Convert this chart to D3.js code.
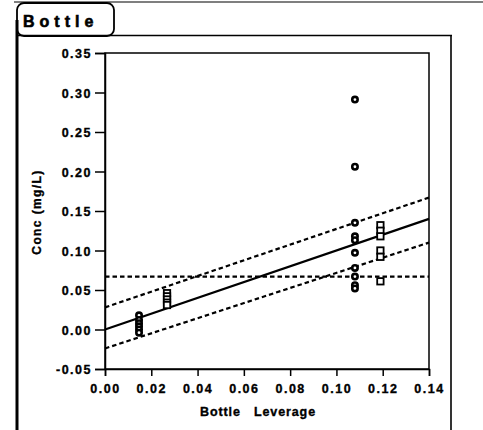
<!DOCTYPE html>
<html>
<head>
<meta charset="utf-8">
<script src="https://cdn.jsdelivr.net/npm/d3@7"></script>
<style>
  html, body { margin: 0; padding: 0; background: #fff; }
  svg { display: block; }
  text { font-family: "Liberation Sans", Arial, Helvetica, sans-serif; font-weight: bold; fill: #000;
         stroke: #000; stroke-width: 0.35px; }
</style>
</head>
<body>
<svg id="chart" width="483" height="430"></svg>
<script>
// Leverage plot for the "Bottle" effect
const panelTitle = "Bottle";
const xTitle = "Bottle   Leverage";
const yTitle = "Conc (mg/L)";

const xTicks = [0.00, 0.02, 0.04, 0.06, 0.08, 0.10, 0.12, 0.14];
const yTicks = [-0.05, 0.00, 0.05, 0.10, 0.15, 0.20, 0.25, 0.30, 0.35];

// observations grouped by bottle leverage
const dotLev = [0.0147, 0.0147, 0.0147, 0.0147, 0.0147, 0.0147,
                0.108, 0.108, 0.108, 0.108, 0.108, 0.108, 0.108, 0.108, 0.108, 0.108];
const dotConc = [0.018, 0.012, 0.008, 0.004, 0.000, -0.004,
                 0.291, 0.206, 0.135, 0.118, 0.113, 0.097, 0.078, 0.067, 0.056, 0.052];

const squareLev = [0.0268, 0.0268, 0.0268, 0.0268, 0.0268,
                   0.119, 0.119, 0.119, 0.119, 0.119, 0.119];
const squareConc = [0.046, 0.042, 0.038, 0.034, 0.031,
                    0.132, 0.125, 0.118, 0.100, 0.092, 0.061];

// fit line, confidence curves and mean line
const lineLev = [0.00, 0.14];
const fitConc = [0.000, 0.140];
const upperConc = [0.028, 0.167];
const lowerConc = [-0.024, 0.110];
const meanConc = [0.067, 0.067];

const svg = d3.select("#chart");

const x = d3.scaleLinear().domain([0, 0.14]).range([105, 429]);
const y = d3.scaleLinear().domain([-0.05, 0.35]).range([369, 53]);

// tick labels use a plain hyphen for negatives
const fmt = d => d3.format(".2f")(d).replace("\u2212", "-");

// outer panel frame with title tab
svg.append("line").attr("x1", 14).attr("x2", 483).attr("y1", 2).attr("y2", 2)
  .attr("stroke", "#000").attr("stroke-width", 1.2);
svg.append("rect").attr("x", 17).attr("y", 3).attr("width", 97).attr("height", 33)
  .attr("rx", 7).attr("fill", "#fff").attr("stroke", "#000").attr("stroke-width", 1.8);
svg.append("text").attr("x", 23).attr("y", 27).attr("font-size", 16)
  .attr("letter-spacing", "5px").style("stroke-width", "0.6px").text(panelTitle);
svg.append("line").attr("x1", 17).attr("x2", 452).attr("y1", 35.5).attr("y2", 35.5)
  .attr("stroke", "#000").attr("stroke-width", 1.6);
svg.append("line").attr("x1", 451).attr("x2", 451).attr("y1", 35).attr("y2", 430)
  .attr("stroke", "#000").attr("stroke-width", 1.6);
svg.append("line").attr("x1", 17).attr("x2", 17).attr("y1", 20).attr("y2", 430)
  .attr("stroke", "#000").attr("stroke-width", 3);

// plot frame
svg.append("rect").attr("x", x(0)).attr("y", y(0.35))
  .attr("width", x(0.14) - x(0)).attr("height", y(-0.05) - y(0.35))
  .attr("fill", "none").attr("stroke", "#000").attr("stroke-width", 1.5);

// axes
const yAxis = svg.append("g").attr("transform", `translate(${x(0)},0)`)
  .call(d3.axisLeft(y).tickValues(yTicks).tickFormat(fmt).tickSize(10).tickPadding(3));
const xAxis = svg.append("g").attr("transform", `translate(0,${y(-0.05)})`)
  .call(d3.axisBottom(x).tickValues(xTicks).tickFormat(fmt).tickSize(7).tickPadding(8));
[xAxis, yAxis].forEach(g => {
  g.select(".domain").attr("stroke", "#000").attr("stroke-width", 1.5);
  g.selectAll(".tick line").attr("stroke", "#000").attr("stroke-width", 1.5);
  g.selectAll(".tick text").attr("font-size", 12.5).attr("letter-spacing", "1.5px")
    .attr("font-family", "'Liberation Sans', Arial, sans-serif").attr("font-weight", "bold").attr("fill", "#000");
});
yAxis.selectAll(".tick text").attr("dy", "0.36em");

// axis titles
svg.append("text").attr("x", 258).attr("y", 416).attr("text-anchor", "middle")
  .attr("font-size", 12.5).attr("letter-spacing", "0.9px").attr("xml:space", "preserve")
  .style("white-space", "pre").text(xTitle);
svg.append("text").attr("transform", "translate(41,212) rotate(-90)")
  .attr("text-anchor", "middle").attr("font-size", 12).attr("letter-spacing", "1.4px")
  .text(yTitle);

// reference lines
const seg = (vals) => lineLev.map((lv, i) => [x(lv), y(vals[i])]);
const lineGen = d3.line();
const dashed = [meanConc, upperConc, lowerConc];
dashed.forEach(vals => {
  svg.append("path").attr("d", lineGen(seg(vals)))
    .attr("fill", "none").attr("stroke", "#000").attr("stroke-width", 2.2)
    .attr("stroke-dasharray", "4.5,3");
});
svg.append("path").attr("d", lineGen(seg(fitConc)))
  .attr("fill", "none").attr("stroke", "#000").attr("stroke-width", 2.2);

// points
svg.append("g").selectAll("circle").data(dotLev.map((lv, i) => [lv, dotConc[i]]))
  .join("circle")
  .attr("cx", d => x(d[0])).attr("cy", d => y(d[1])).attr("r", 2.7)
  .attr("fill", "#fff").attr("stroke", "#000").attr("stroke-width", 2.6);
svg.append("g").selectAll("rect").data(squareLev.map((lv, i) => [lv, squareConc[i]]))
  .join("rect")
  .attr("x", d => x(d[0]) - 3.2).attr("y", d => y(d[1]) - 3.2)
  .attr("width", 6.4).attr("height", 6.4)
  .attr("fill", "#fff").attr("stroke", "#000").attr("stroke-width", 1.8);
</script>
</body>
</html>
